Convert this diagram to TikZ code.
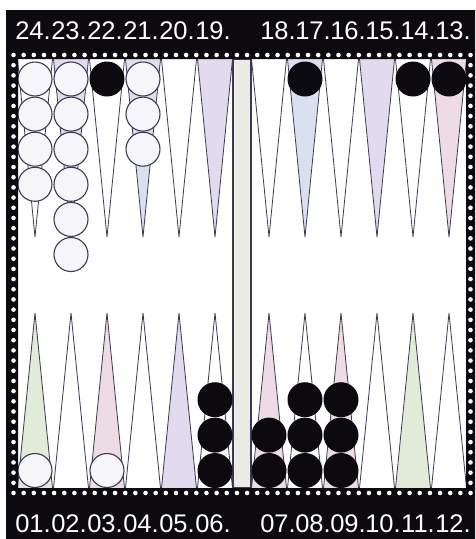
\documentclass[tikz,border=0pt]{standalone}
\usepackage{fontspec}
\setmainfont{Liberation Sans}
\usepackage{xcolor}
\usepackage{tikz}
\usetikzlibrary{positioning}
\definecolor{rimblack}{RGB}{12,10,14}
\definecolor{pointline}{RGB}{60,58,82}
\definecolor{ptlav}{RGB}{226,218,238}
\definecolor{ptblue}{RGB}{218,224,240}
\definecolor{ptpink}{RGB}{238,220,228}
\definecolor{ptgreen}{RGB}{226,234,216}
\definecolor{barfill}{RGB}{236,234,228}
\definecolor{chkwhite}{RGB}{246,246,250}
\tikzset{
  pointtri/.style={draw=pointline, line width=0.8pt, line join=miter},
  whitechk/.style={circle, draw=pointline, fill=chkwhite, line width=1.1pt,
    minimum size=34pt, inner sep=0pt},
  blackchk/.style={circle, fill=rimblack, minimum size=35pt, inner sep=0pt},
  ptnum/.style={text=white, font=\fontsize{25.5}{25.5}\selectfont, inner sep=0pt},
  rimdot/.style={fill=white}
}

\begin{document}
\begin{tikzpicture}[x=1pt, y=-1pt]
  \useasboundingbox (0,0) rectangle (475,539);
  \fill[white] (18,59) rectangle (466,488);
  % points, upper half
  \foreach \px/\n/\col in {35/24/white, 71/23/ptlav, 107/22/white, 143/21/ptblue,
      179/20/white, 215/19/ptlav, 269/18/white, 305/17/ptblue, 341/16/white,
      377/15/ptlav, 413/14/white, 449/13/ptpink}
    \filldraw[pointtri, fill=\col] ({\px-17.5},59) -- (\px,237) -- ({\px+17.5},59);
  % points, lower half
  \foreach \px/\n/\col in {35/1/ptgreen, 71/2/white, 107/3/ptpink, 143/4/white,
      179/5/ptlav, 215/6/white, 269/7/ptpink, 305/8/white, 341/9/ptpink,
      377/10/white, 413/11/ptgreen, 449/12/white}
    \filldraw[pointtri, fill=\col] ({\px-17.5},488) -- (\px,313) -- ({\px+17.5},488);
  % bar
  \filldraw[fill=barfill, draw=pointline, line width=1.2pt] (233,59) rectangle (251,488);

  % checkers
  \foreach \px/\n/\k in {35/24/4, 71/23/6, 143/21/3} {
    \node[whitechk] (w\n-1) at (\px,79) {};
    \foreach \i [remember=\i as \j (initially 1)] in {2,...,\k}
      \node[whitechk, below=0pt of w\n-\j] (w\n-\i) {};
  }
  \node[blackchk] (b22) at (107,79) {};
  \node[blackchk] (b17) at (305,79) {};
  \node[blackchk] (b14) at (413,79) {};
  \node[blackchk] (b13) at (449,79) {};
  \node[whitechk] (w1) at (35,470.5) {};
  \node[whitechk] (w3) at (107,470.5) {};
  \foreach \px/\n/\k in {215/6/3, 269/7/2, 305/8/3, 341/9/3} {
    \node[blackchk] (b\n-1) at (\px,470.5) {};
    \foreach \i [remember=\i as \j (initially 1)] in {2,...,\k}
      \node[blackchk, above=0pt of b\n-\j] (b\n-\i) {};
  }

  % rim with studs
  \fill[rimblack, even odd rule] (6,10) rectangle (475,539) (18,59) rectangle (466,488);
  \foreach \i in {0,...,45} {
    \fill[rimdot] ({13.5+\i*10.156},55) circle (2.3pt);
    \fill[rimdot] ({13.5+\i*10.156},493) circle (2.3pt);
  }
  \foreach \i in {1,...,42} {
    \fill[rimdot] (13.5,{55+\i*10.186}) circle (2.3pt);
    \fill[rimdot] (470.5,{55+\i*10.186}) circle (2.3pt);
  }

  % point numbers
  \foreach \n [count=\i from 0] in {24,23,22,21,20,19}
    \node[ptnum] (t\n) at ({33+36*\i},31) {\n.};
  \foreach \n [count=\i from 0] in {18,17,16,15,14,13}
    \node[ptnum] (t\n) at ({278+35*\i},31) {\n.};
  \foreach \n [count=\i from 0] in {01,02,03,04,05,06}
    \node[ptnum] (u\n) at ({33+36*\i},524) {\n.};
  \foreach \n [count=\i from 0] in {07,08,09,10,11,12}
    \node[ptnum] (u\n) at ({278+35*\i},524) {\n.};
\end{tikzpicture}
\end{document}
